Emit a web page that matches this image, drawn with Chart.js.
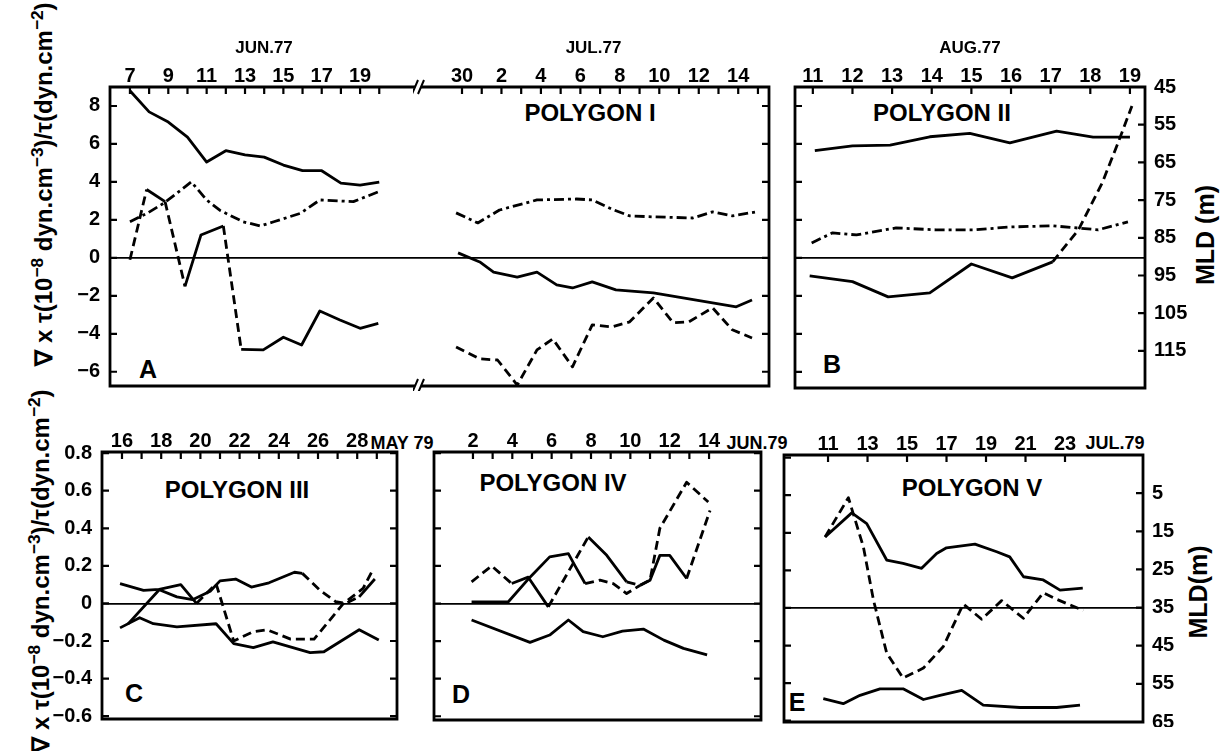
<!DOCTYPE html>
<html>
<head>
<meta charset="utf-8">
<script src="https://cdn.jsdelivr.net/npm/chart.js@4.4.1/dist/chart.umd.min.js"></script>
<style>
  html, body { margin: 0; padding: 0; background: #fff; }
  #fig { position: relative; width: 1220px; height: 751px; overflow: hidden; background: #fff;
         font-family: 'Liberation Sans', sans-serif; font-weight: bold; color: #000; }
  #fig canvas { position: absolute; }
  .lbl { position: absolute; white-space: nowrap; transform: translate(-50%, -50%); line-height: 1; }
  .poly { font-size: 24px; }
  .letter { font-size: 25px; }
  .month { font-size: 18px; }
  .vt { position: absolute; white-space: nowrap; line-height: 1; transform: translate(-50%, -50%) rotate(-90deg); }
  .vt sup { font-size: 0.72em; position: relative; top: -0.55em; vertical-align: baseline; }
  .curlt { font-size: 24px; }
  .mldt { font-size: 25px; }
</style>
</head>
<body>
<div id="fig">
  <div class="lbl poly" style="left:590px;top:113px">POLYGON I</div>
  <div class="lbl poly" style="left:942px;top:113px">POLYGON II</div>
  <div class="lbl poly" style="left:237px;top:490px">POLYGON III</div>
  <div class="lbl poly" style="left:553px;top:483px">POLYGON IV</div>
  <div class="lbl poly" style="left:972px;top:488px">POLYGON V</div>
  <div class="lbl letter" style="left:148px;top:369px">A</div>
  <div class="lbl letter" style="left:832px;top:364px">B</div>
  <div class="lbl letter" style="left:134px;top:693px">C</div>
  <div class="lbl letter" style="left:461px;top:694px">D</div>
  <div class="lbl letter" style="left:797px;top:702px">E</div>
  <div class="lbl month" style="left:402px;top:443px">MAY 79</div>
  <div class="lbl month" style="left:757px;top:443px">JUN.79</div>
  <div class="lbl month" style="left:1115px;top:443px">JUL.79</div>
  <div class="vt curlt" style="left:44px;top:184px">∇ x τ(10<sup>−8</sup> dyn.cm<sup>−3</sup>)/τ(dyn.cm<sup>−2</sup>)</div>
  <div class="vt curlt" style="left:41px;top:571px">∇ x τ(10<sup>−8</sup> dyn.cm<sup>−3</sup>)/τ(dyn.cm<sup>−2</sup>)</div>
  <div class="vt mldt" style="left:1205px;top:235px">MLD (m)</div>
  <div class="vt mldt" style="left:1198px;top:592px">MLD(m)</div>
</div>
<script>
// ---------- axis ticks and labels ----------
const junTicks = [7, 8, 9, 10, 11, 12, 13, 14, 15, 16, 17, 18, 19, 20];
const junLabels = ['7', '', '9', '', '11', '', '13', '', '15', '', '17', '', '19', ''];
const julTicks = [30, 31, 32, 33, 34, 35, 36, 37, 38, 39, 40, 41, 42, 43, 44, 45];   // 31 = 1 Jul
const julLabels = ['30', '', '2', '', '4', '', '6', '', '8', '', '10', '', '12', '', '14', ''];
const augTicks = [11, 12, 13, 14, 15, 16, 17, 18, 19];
const augLabels = ['11', '12', '13', '14', '15', '16', '17', '18', '19'];
const mayTicks = [16, 17, 18, 19, 20, 21, 22, 23, 24, 25, 26, 27, 28, 29];
const mayLabels = ['16', '', '18', '', '20', '', '22', '', '24', '', '26', '', '28', ''];
const jun79Ticks = [2, 3, 4, 5, 6, 7, 8, 9, 10, 11, 12, 13, 14];
const jun79Labels = ['2', '', '4', '', '6', '', '8', '', '10', '', '12', '', '14'];
const jul79Ticks = [11, 13, 15, 17, 19, 21, 23];
const jul79Labels = ['11', '13', '15', '17', '19', '21', '23'];

const curlTicks77 = [-6, -4, -2, 0, 2, 4, 6, 8];
const curlLabels77 = ['−6', '−4', '−2', '0', '2', '4', '6', '8'];
const curlTicks79 = [-0.6, -0.4, -0.2, 0, 0.2, 0.4, 0.6, 0.8];
const curlLabels79 = ['−0.6', '−0.4', '−0.2', '0', '0.2', '0.4', '0.6', '0.8'];
const mldTicks77 = [45, 55, 65, 75, 85, 95, 105, 115];
const mldTicks79 = [5, 15, 25, 35, 45, 55, 65];

// ---------- panel A, June 1977 ----------
const aJunMldDays = [7, 8, 9, 10, 11, 12, 13, 14, 15, 16, 17, 18, 19, 20];
const aJunMld = [46.0, 51.6, 54.3, 58.3, 64.9, 61.9, 63.0, 63.6, 65.7, 67.2, 67.2, 70.5, 71.0, 70.2];
const aJunTauDays = [7, 7.9, 8.8, 10.2, 11.0, 11.7, 12.9, 13.8, 14.5, 15.9, 16.9, 18.65, 20];
const aJunTau = [1.9, 2.35, 2.9, 4.0, 3.05, 2.5, 1.9, 1.68, 1.9, 2.35, 3.05, 2.96, 3.5];
const aJunCurlDays = [7, 7.87, 8.83, 9.87, 10.7, 11.87, 12.8, 13.95, 15.0, 15.95, 16.9, 17.95, 19, 19.95];
const aJunCurl = [-0.1, 3.6, 2.96, -1.5, 1.2, 1.68, -4.82, -4.85, -4.18, -4.59, -2.8, -3.27, -3.71, -3.45];

// ---------- panel A, July 1977 ----------
const aJulMldDays = [29.8, 30.9, 31.6, 32.8, 33.8, 34.8, 35.6, 36.6, 37.8, 39.7, 41.2, 43.9, 44.7];
const aJulMld = [89.0, 91.4, 94.1, 95.4, 94.1, 97.5, 98.3, 96.7, 98.8, 99.6, 100.9, 103.3, 101.5];
const aJulTauDays = [29.7, 30.8, 31.9, 33.8, 35.8, 36.6, 37.7, 38.5, 39.7, 41.7, 42.7, 43.7, 44.9];
const aJulTau = [2.37, 1.84, 2.52, 3.05, 3.1, 3.05, 2.52, 2.21, 2.16, 2.1, 2.42, 2.21, 2.42];
const aJulCurlDays = [29.7, 30.9, 31.8, 32.8, 33.8, 34.6, 35.6, 36.6, 37.6, 38.5, 39.7, 40.7, 41.5, 42.7, 43.7, 44.7];
const aJulCurl = [-4.69, -5.32, -5.38, -6.7, -4.85, -4.27, -5.74, -3.53, -3.64, -3.37, -2.11, -3.42, -3.37, -2.63, -3.79, -4.22];

// ---------- panel B, August 1977 ----------
const bMldDays = [11.05, 12.0, 12.95, 13.95, 14.96, 15.97, 17.15, 18.07, 19.0];
const bMld = [61.9, 60.6, 60.4, 58.2, 57.3, 59.8, 56.7, 58.3, 58.3];
const bTauDays = [10.97, 11.5, 12.1, 13.1, 14.1, 15.1, 15.97, 17.05, 18.2, 18.95];
const bTau = [0.79, 1.32, 1.21, 1.58, 1.48, 1.48, 1.63, 1.69, 1.48, 1.9];
const bCurlDays = [10.92, 12.0, 12.9, 13.95, 15.0, 16.03, 17.05, 17.7, 18.3, 18.7, 19.05];
const bCurl = [-0.95, -1.25, -2.05, -1.84, -0.32, -1.05, -0.21, 1.48, 3.95, 6.06, 8.0];

// ---------- panel C, May 1979 ----------
const cLowDays = [15.9, 16.9, 17.6, 18.8, 20.8, 21.7, 22.7, 23.7, 25.6, 26.3, 28.1, 29.1];
const cLow = [-0.13, -0.076, -0.108, -0.125, -0.108, -0.214, -0.235, -0.205, -0.262, -0.257, -0.14, -0.195];
const cDropDays = [15.9, 17.1, 17.9, 19.0, 19.8, 20.8, 21.7, 22.7, 23.4, 24.6, 25.8, 27.3, 28.3, 28.8];
const cDrop = [0.105, 0.07, 0.075, 0.10, 0.0, 0.105, -0.2, -0.15, -0.14, -0.19, -0.19, 0.0, 0.08, 0.18];
const cHumpDays = [16.3, 17.9, 18.8, 19.6, 20.5, 21.0, 21.8, 22.6, 23.5, 24.8, 25.2, 26.1, 26.9, 27.4, 28.1, 28.9];
const cHump = [-0.11, 0.073, 0.035, 0.02, 0.065, 0.12, 0.13, 0.087, 0.11, 0.166, 0.16, 0.07, 0.01, 0.0, 0.035, 0.13];

// ---------- panel D, June 1979 ----------
const dLowDays = [1.93, 4.9, 5.9, 6.85, 7.6, 8.6, 9.6, 10.66, 11.7, 12.7, 13.9];
const dLow = [-0.088, -0.207, -0.168, -0.088, -0.15, -0.177, -0.147, -0.136, -0.195, -0.239, -0.274];
const dDashDays = [1.93, 2.95, 3.97, 4.81, 5.83, 7.86, 8.8, 9.81, 10.5, 11.0, 11.5, 12.86, 13.96];
const dDash = [0.115, 0.2, 0.106, 0.14, -0.018, 0.354, 0.256, 0.115, 0.097, 0.124, 0.40, 0.645, 0.54];
const dMixDays = [1.93, 3.8, 4.9, 5.9, 6.85, 7.19, 7.7, 8.46, 9.13, 9.81, 10.5, 11.0, 11.5, 12.0, 12.86, 14.05];
const dMix = [0.009, 0.009, 0.14, 0.248, 0.265, 0.2, 0.106, 0.124, 0.106, 0.053, 0.097, 0.124, 0.256, 0.256, 0.133, 0.495];

// ---------- panel E, July 1979 ----------
const eHumpDays = [10.85, 12.2, 12.96, 13.97, 14.8, 15.74, 16.5, 17.0, 18.44, 19.54, 20.2, 20.9, 21.9, 22.75, 23.9];
const eHump = [0.378, 0.506, 0.449, 0.255, 0.237, 0.211, 0.29, 0.32, 0.34, 0.299, 0.272, 0.166, 0.149, 0.095, 0.105];
const eDashDays = [10.85, 12.03, 12.79, 13.3, 13.97, 14.8, 15.83, 16.84, 17.85, 18.78, 19.79, 20.89, 21.9, 22.58, 23.93];
const eDash = [0.378, 0.587, 0.325, 0.042, -0.24, -0.373, -0.32, -0.205, 0.021, -0.06, 0.039, -0.055, 0.081, 0.046, -0.014];
const eMldDays = [10.76, 11.77, 12.62, 13.63, 14.8, 15.83, 16.67, 17.77, 18.86, 20.72, 22.58, 23.76];
const eMld = [58.9, 60.2, 58.0, 56.3, 56.3, 59.1, 58.0, 56.7, 60.6, 61.2, 61.2, 60.6];

// ---------- drawing ----------
const FONT = "'Liberation Sans', sans-serif";
const DASH = [9, 5];
const DASHDOT = [10, 4, 3, 4];
const PAD = 5;
const fig = document.getElementById('fig');

function series(days, vals, dash, axis, dashedSegs) {
  const ds = {
    data: days.map((d, i) => ({ x: d, y: vals[i] })),
    yAxisID: axis || 'y',
    borderColor: '#000',
    borderWidth: 2.8,
    borderDash: dash || [],
    borderCapStyle: 'butt',
    borderJoinStyle: 'round',
    pointRadius: 0,
    tension: 0,
    fill: false
  };
  if (dashedSegs) ds.segment = { borderDash: c => dashedSegs.includes(c.p0DataIndex) ? DASH : [] };
  return ds;
}

function breakMark(ctx, x, y) {
  ctx.fillStyle = '#fff';
  ctx.fillRect(x - 3, y - 4, 6, 8);
  ctx.beginPath();
  [-3, 3].forEach(dx => { ctx.moveTo(x + dx - 3, y + 7); ctx.lineTo(x + dx + 3, y - 7); });
  ctx.stroke();
}

const framePlugin = {
  id: 'frame',
  afterDatasetsDraw(chart, args, o) {
    const { ctx, chartArea: a, scales } = chart;
    ctx.save();
    ctx.strokeStyle = '#000';
    ctx.lineWidth = 2.8;
    ctx.lineCap = 'square';
    ctx.beginPath();
    if (o.sides.includes('t')) { ctx.moveTo(a.left, a.top); ctx.lineTo(a.right, a.top); }
    if (o.sides.includes('b')) { ctx.moveTo(a.left, a.bottom); ctx.lineTo(a.right, a.bottom); }
    if (o.sides.includes('l')) { ctx.moveTo(a.left, a.top); ctx.lineTo(a.left, a.bottom); }
    if (o.sides.includes('r')) { ctx.moveTo(a.right, a.top); ctx.lineTo(a.right, a.bottom); }
    ctx.stroke();
    // inward tick marks
    ctx.lineWidth = 2.2;
    ctx.lineCap = 'butt';
    const tl = 7;
    ctx.beginPath();
    scales.x.ticks.forEach(t => {
      const px = scales.x.getPixelForValue(t.value);
      ctx.moveTo(px, a.top); ctx.lineTo(px, a.top + tl);
    });
    if (o.leftTicks) scales[o.leftTicks].ticks.forEach(t => {
      const py = scales[o.leftTicks].getPixelForValue(t.value);
      ctx.moveTo(a.left, py); ctx.lineTo(a.left + tl, py);
    });
    if (o.rightTicks) scales[o.rightTicks].ticks.forEach(t => {
      const py = scales[o.rightTicks].getPixelForValue(t.value);
      ctx.moveTo(a.right, py); ctx.lineTo(a.right - tl, py);
    });
    ctx.stroke();
    if (o.breakLeft) {
      ctx.lineWidth = 2;
      breakMark(ctx, a.left, a.top);
      breakMark(ctx, a.left, a.bottom);
    }
    ctx.restore();
  }
};

function tickFont(size) { return { family: FONT, weight: 'bold', size: size }; }

function panel(p) {
  const W = p.box.r - p.box.l, H = p.box.b - p.box.t;
  const lw = p.leftW || 0, rw = p.rightW || 0, th = p.topH;
  const cv = document.createElement('canvas');
  cv.width = lw + W + rw + 2 * PAD;
  cv.height = th + H + PAD;
  cv.style.left = (p.box.l - lw - PAD) + 'px';
  cv.style.top = (p.box.t - th) + 'px';
  fig.appendChild(cv);

  const fitY = w => s => { s.width = w; s.paddingTop = 0; s.paddingBottom = 0; };

  const scales = {
    x: {
      type: 'linear', position: 'top', min: p.x.min, max: p.x.max,
      afterBuildTicks: s => { s.ticks = p.x.ticks.map(v => ({ value: v })); },
      afterFit: s => { s.height = th; s.paddingLeft = 0; s.paddingRight = 0; },
      ticks: { callback: (v, i) => p.x.labels[i], font: tickFont(20), color: '#000', padding: -1,
               maxRotation: 0, minRotation: 0, autoSkip: false },
      grid: { display: false, drawTicks: false }, border: { display: false },
      title: p.x.title
        ? { display: true, text: p.x.title, font: tickFont(17), color: '#000', padding: { top: 38, bottom: 0 } }
        : { display: false }
    },
    y: {
      type: 'linear', position: 'left', min: p.y.min, max: p.y.max,
      afterBuildTicks: s => { s.ticks = p.y.ticks.map(v => ({ value: v })); },
      afterFit: fitY(lw),
      ticks: { display: !!p.y.labels, callback: (v, i) => p.y.labels ? p.y.labels[i] : '',
               font: tickFont(20), color: '#000', padding: 10 },
      grid: { color: c => (c.tick && c.tick.value === 0) ? '#000' : 'rgba(0,0,0,0)', lineWidth: 1.8, drawTicks: false },
      border: { display: false }
    },
    y2: {
      type: 'linear', position: 'right', reverse: true, min: p.y2.min, max: p.y2.max,
      display: !!p.y2.labels,
      afterBuildTicks: s => { s.ticks = (p.y2.ticks || []).map(v => ({ value: v })); },
      afterFit: fitY(rw),
      ticks: { callback: (v, i) => p.y2.labels ? p.y2.labels[i] : '', font: tickFont(20), color: '#000', padding: 9 },
      grid: { display: false, drawTicks: false }, border: { display: false }
    }
  };

  return new Chart(cv, {
    type: 'line',
    data: { datasets: p.datasets },
    options: {
      responsive: false, animation: false, devicePixelRatio: 1, events: [],
      layout: { autoPadding: false, padding: { left: PAD, right: PAD, top: 0, bottom: PAD } },
      scales: scales,
      plugins: { legend: { display: false }, tooltip: { enabled: false }, frame: p.frame }
    },
    plugins: [framePlugin]
  });
}

Chart.defaults.font.family = FONT;

// panel A, left of the break (June 1977)
panel({
  box: { l: 110, r: 418, t: 87, b: 386 }, leftW: 110 - PAD, topH: 87,
  x: { min: 5.96, max: 22.02, ticks: junTicks, labels: junLabels, title: 'JUN.77' },
  y: { min: -6.75, max: 9.0, ticks: curlTicks77, labels: curlLabels77 },
  y2: { min: 45, max: 124.3 },
  frame: { sides: 'ltb', leftTicks: 'y' },
  datasets: [
    series(aJunMldDays, aJunMld, null, 'y2'),
    series(aJunTauDays, aJunTau, DASHDOT),
    series(aJunCurlDays, aJunCurl, null, 'y', [0, 2, 5])
  ]
});

// panel A, right of the break (July 1977)
panel({
  box: { l: 418, r: 769, t: 87, b: 386 }, topH: 87,
  x: { min: 27.77, max: 45.56, ticks: julTicks, labels: julLabels, title: 'JUL.77' },
  y: { min: -6.75, max: 9.0, ticks: curlTicks77 },
  y2: { min: 45, max: 124.3 },
  frame: { sides: 'trb', rightTicks: 'y', breakLeft: true },
  datasets: [
    series(aJulMldDays, aJulMld, null, 'y2'),
    series(aJulTauDays, aJulTau, DASHDOT),
    series(aJulCurlDays, aJulCurl, DASH)
  ]
});

// panel B (August 1977)
panel({
  box: { l: 795, r: 1145, t: 87, b: 388 }, rightW: 1220 - 1145 - PAD, topH: 87,
  x: { min: 10.55, max: 19.38, ticks: augTicks, labels: augLabels, title: 'AUG.77' },
  y: { min: -6.85, max: 9.0, ticks: curlTicks77 },
  y2: { min: 45, max: 124.85, ticks: mldTicks77, labels: mldTicks77.map(String) },
  frame: { sides: 'ltrb', leftTicks: 'y', rightTicks: 'y2' },
  datasets: [
    series(bMldDays, bMld, null, 'y2'),
    series(bTauDays, bTau, DASHDOT),
    series(bCurlDays, bCurl, null, 'y', [6, 7, 8, 9])
  ]
});

// panel C (May 1979)
panel({
  box: { l: 102, r: 397, t: 452, b: 719 }, leftW: 102 - PAD, topH: 30,
  x: { min: 14.98, max: 30.03, ticks: mayTicks, labels: mayLabels },
  y: { min: -0.615, max: 0.806, ticks: curlTicks79, labels: curlLabels79 },
  y2: { min: 0, max: 1 },
  frame: { sides: 'ltrb', leftTicks: 'y', rightTicks: 'y' },
  datasets: [
    series(cLowDays, cLow),
    series(cDropDays, cDrop, null, 'y', [4, 5, 6, 7, 8, 9, 10, 11, 12]),
    series(cHumpDays, cHump, null, 'y', [10, 11, 12, 13])
  ]
});

// panel D (June 1979)
panel({
  box: { l: 434, r: 761, t: 452, b: 720 }, topH: 30,
  x: { min: 0.02, max: 16.64, ticks: jun79Ticks, labels: jun79Labels },
  y: { min: -0.62, max: 0.806, ticks: curlTicks79 },
  y2: { min: 0, max: 1 },
  frame: { sides: 'ltrb', leftTicks: 'y', rightTicks: 'y' },
  datasets: [
    series(dLowDays, dLow),
    series(dDashDays, dDash, null, 'y', [0, 1, 4, 7, 8, 9, 10, 11]),
    series(dMixDays, dMix, null, 'y', [6, 7, 8, 9, 14])
  ]
});

// panel E (July 1979)
panel({
  box: { l: 784, r: 1143, t: 455, b: 722 }, rightW: 1220 - 1143 - PAD, topH: 30,
  x: { min: 8.77, max: 26.95, ticks: jul79Ticks, labels: jul79Labels },
  y: { min: -0.607, max: 0.814, ticks: curlTicks79 },
  y2: { min: -5, max: 65, ticks: mldTicks79, labels: mldTicks79.map(String) },
  frame: { sides: 'ltrb', leftTicks: 'y', rightTicks: 'y2' },
  datasets: [
    series(eHumpDays, eHump),
    series(eDashDays, eDash, DASH),
    series(eMldDays, eMld, null, 'y2')
  ]
});
</script>
</body>
</html>
